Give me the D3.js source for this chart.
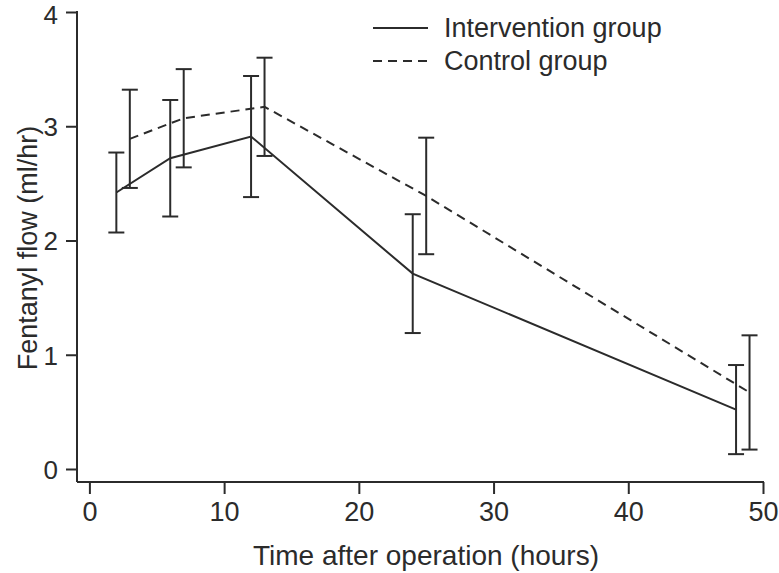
<!DOCTYPE html>
<html><head><meta charset="utf-8">
<script src="https://cdn.jsdelivr.net/npm/d3@7"></script>
<style>body{margin:0;background:#fff}svg{display:block}</style>
</head><body>
<script>
const xTicks = [0, 10, 20, 30, 40, 50];
const yTicks = [0, 1, 2, 3, 4];
const interventionTime = [2, 6, 12, 24, 48];
const interventionMean = [2.42, 2.72, 2.91, 1.71, 0.52];
const interventionErr = [0.35, 0.51, 0.53, 0.52, 0.39];
const controlTime = [3, 7, 13, 25, 49];
const controlMean = [2.89, 3.07, 3.17, 2.39, 0.67];
const controlErr = [0.43, 0.43, 0.43, 0.51, 0.50];
const seriesNames = ["Intervention group", "Control group"];

const W = 779, H = 573;
const color = "#2b2b2b";
const font = "'Liberation Sans', Arial, Helvetica, sans-serif";
const svg = d3.select("body").append("svg").attr("width", W).attr("height", H);

const x = d3.scaleLinear().domain([0, 50]).range([89.4, 763]);
const y = d3.scaleLinear().domain([0, 4]).range([469, 12]);
const axisX0 = 77, axisY0 = 482;

// axis lines
svg.append("line").attr("x1", axisX0).attr("x2", x(50) + 1).attr("y1", axisY0).attr("y2", axisY0)
  .attr("stroke", color).attr("stroke-width", 2);
svg.append("line").attr("x1", axisX0).attr("x2", axisX0).attr("y1", y(4) - 1).attr("y2", axisY0)
  .attr("stroke", color).attr("stroke-width", 2);

const gx = svg.append("g").attr("transform", `translate(0,${axisY0})`)
  .call(d3.axisBottom(x).tickValues(xTicks).tickSize(12).tickPadding(8).tickFormat(d3.format("d")));
gx.select(".domain").remove();
gx.selectAll("line").attr("stroke", color).attr("stroke-width", 2);
gx.selectAll("text").attr("fill", color).style("font-family", font).style("font-size", "27px");

const gy = svg.append("g").attr("transform", `translate(${axisX0},0)`)
  .call(d3.axisLeft(y).tickValues(yTicks).tickSize(11).tickPadding(8).tickFormat(d3.format("d")));
gy.select(".domain").remove();
gy.selectAll("line").attr("stroke", color).attr("stroke-width", 2);
gy.selectAll("text").attr("fill", color).attr("dy", d => d === 4 ? "0.45em" : "0.36em")
  .style("font-family", font).style("font-size", "26px");

// axis titles
svg.append("text").attr("x", 426).attr("y", 565).attr("text-anchor", "middle")
  .attr("fill", color).style("font-family", font).style("font-size", "28px")
  .text("Time after operation (hours)");
svg.append("text").attr("transform", "translate(37,248) rotate(-90)").attr("text-anchor", "middle")
  .attr("fill", color).style("font-family", font).style("font-size", "27px")
  .text("Fentanyl flow (ml/hr)");

function drawSeries(times, means, errs, dash) {
  const data = times.map((t, i) => ({t, m: means[i], e: errs[i]}));
  const line = d3.line().x(d => x(d.t)).y(d => y(d.m));
  svg.append("path").datum(data).attr("d", line).attr("fill", "none")
    .attr("stroke", color).attr("stroke-width", 2).attr("stroke-dasharray", dash);
  const g = svg.append("g").attr("stroke", color).attr("stroke-width", 2);
  data.forEach(d => {
    g.append("line").attr("x1", x(d.t)).attr("x2", x(d.t)).attr("y1", y(d.m + d.e)).attr("y2", y(d.m - d.e));
    [d.m + d.e, d.m - d.e].forEach(v => {
      g.append("line").attr("x1", x(d.t) - 8).attr("x2", x(d.t) + 8).attr("y1", y(v)).attr("y2", y(v));
    });
  });
}
drawSeries(interventionTime, interventionMean, interventionErr, null);
drawSeries(controlTime, controlMean, controlErr, "9,6");

// legend
const leg = svg.append("g");
[[28, null], [61, "9,6"]].forEach((row, i) => {
  leg.append("line").attr("x1", 373).attr("x2", 428).attr("y1", row[0]).attr("y2", row[0])
    .attr("stroke", color).attr("stroke-width", 2).attr("stroke-dasharray", row[1]);
  leg.append("text").attr("x", 444).attr("y", row[0] + 9).attr("fill", color)
    .style("font-family", font).style("font-size", "27px")
    .text(seriesNames[i]);
});
</script>
</body></html>
